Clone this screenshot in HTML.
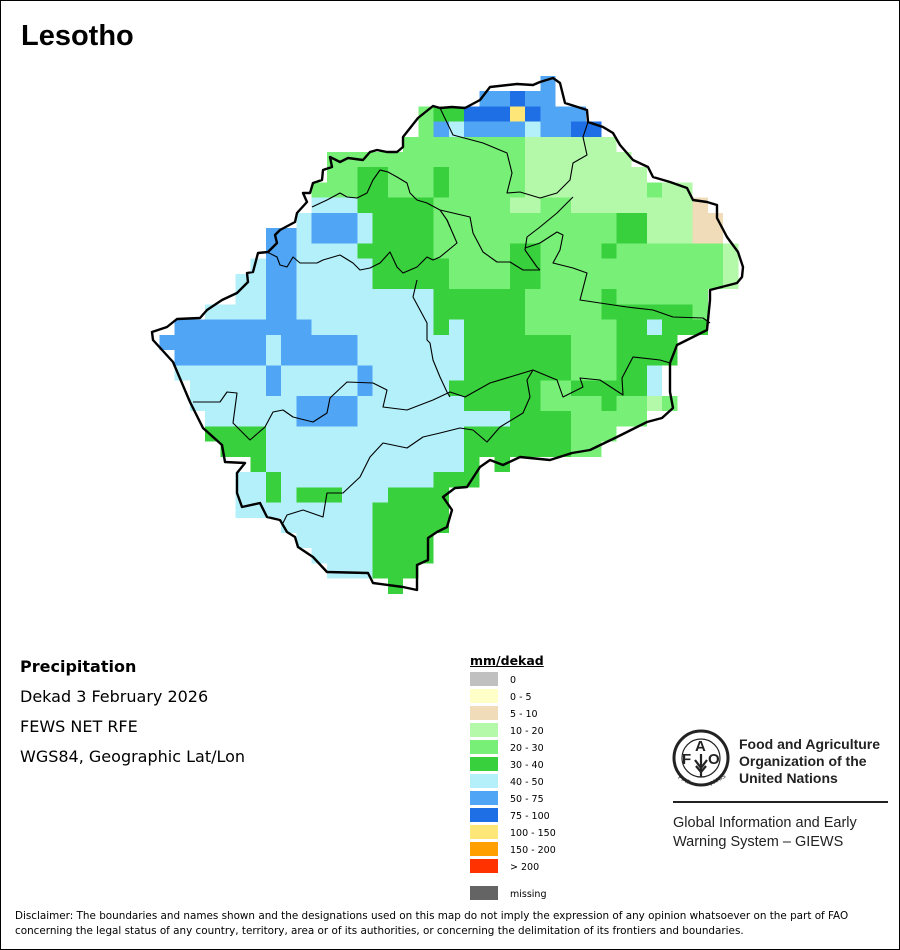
<!DOCTYPE html>
<html><head><meta charset="utf-8"><style>
html,body{margin:0;padding:0;background:#fff}
.page{position:relative;width:898px;height:948px;border:1px solid #000;overflow:hidden;font-family:"Liberation Sans",Arial,sans-serif}
.t{position:absolute;white-space:nowrap;color:#000}
.dv{font-family:"DejaVu Sans",sans-serif}
</style></head><body><div class="page">
<div class="t" style="left:20px;top:19px;font-size:29px;font-weight:bold">Lesotho</div>
<svg width="900" height="640" style="position:absolute;left:-1px;top:-1px">
<g transform="translate(159.3,75.8) scale(15.24)" shape-rendering="crispEdges">
<g fill="#b4f0fa">
<rect x="19" y="3" width="1" height="1"/><rect x="24" y="3" width="1" height="1"/>
<rect x="10" y="8" width="3" height="1"/><rect x="9" y="9" width="1" height="1"/><rect x="13" y="9" width="1" height="1"/>
<rect x="9" y="10" width="1" height="1"/><rect x="13" y="10" width="1" height="1"/>
<rect x="9" y="11" width="4" height="1"/><rect x="6" y="12" width="1" height="1"/><rect x="9" y="12" width="5" height="1"/>
<rect x="5" y="13" width="2" height="1"/><rect x="9" y="13" width="5" height="1"/>
<rect x="5" y="14" width="2" height="1"/><rect x="9" y="14" width="9" height="1"/>
<rect x="3" y="15" width="4" height="1"/><rect x="9" y="15" width="9" height="1"/>
<rect x="10" y="16" width="8" height="1"/><rect x="19" y="16" width="1" height="1"/><rect x="32" y="16" width="1" height="1"/>
<rect x="7" y="17" width="1" height="1"/><rect x="13" y="17" width="7" height="1"/>
<rect x="7" y="18" width="1" height="1"/><rect x="13" y="18" width="7" height="1"/>
<rect x="1" y="19" width="6" height="1"/><rect x="8" y="19" width="5" height="1"/><rect x="14" y="19" width="6" height="1"/><rect x="32" y="19" width="1" height="1"/>
<rect x="2" y="20" width="5" height="1"/><rect x="8" y="20" width="5" height="1"/><rect x="14" y="20" width="5" height="1"/><rect x="32" y="20" width="1" height="1"/>
<rect x="2" y="21" width="7" height="1"/><rect x="13" y="21" width="7" height="1"/>
<rect x="3" y="22" width="6" height="1"/><rect x="13" y="22" width="10" height="1"/>
<rect x="7" y="23" width="13" height="1"/><rect x="7" y="24" width="13" height="1"/><rect x="7" y="25" width="13" height="1"/>
<rect x="5" y="26" width="2" height="1"/><rect x="8" y="26" width="10" height="1"/>
<rect x="5" y="27" width="2" height="1"/><rect x="8" y="27" width="1" height="1"/><rect x="12" y="27" width="3" height="1"/>
<rect x="5" y="28" width="9" height="1"/><rect x="8" y="29" width="6" height="1"/><rect x="9" y="30" width="5" height="1"/>
<rect x="10" y="31" width="4" height="1"/><rect x="11" y="32" width="3" height="1"/>
</g>
<g fill="#50a5f5">
<rect x="25" y="0" width="1" height="1"/><rect x="21" y="1" width="2" height="1"/><rect x="24" y="1" width="2" height="1"/>
<rect x="25" y="2" width="3" height="1"/><rect x="18" y="3" width="1" height="1"/><rect x="20" y="3" width="4" height="1"/><rect x="25" y="3" width="2" height="1"/>
<rect x="10" y="9" width="3" height="2"/><rect x="7" y="10" width="2" height="6"/>
<rect x="1" y="16" width="9" height="1"/><rect x="0" y="17" width="7" height="1"/><rect x="8" y="17" width="5" height="2"/><rect x="1" y="18" width="6" height="1"/>
<rect x="7" y="19" width="1" height="2"/><rect x="13" y="19" width="1" height="2"/><rect x="9" y="21" width="4" height="2"/>
</g>
<g fill="#1e6ee6">
<rect x="23" y="1" width="1" height="1"/><rect x="20" y="2" width="3" height="1"/><rect x="24" y="2" width="1" height="1"/><rect x="27" y="3" width="2" height="1"/>
</g>
<rect x="23" y="2" width="1" height="1" fill="#ffe678"/>
<g fill="#f0dcb8"><rect x="35" y="8" width="1" height="1"/><rect x="35" y="9" width="2" height="2"/></g>
<g fill="#b4f8aa">
<rect x="24" y="4" width="6" height="1"/><rect x="24" y="5" width="7" height="1"/><rect x="24" y="6" width="8" height="2"/><rect x="33" y="7" width="2" height="1"/>
<rect x="23" y="8" width="2" height="1"/><rect x="27" y="8" width="8" height="1"/><rect x="32" y="9" width="3" height="2"/>
<rect x="37" y="11" width="1" height="3"/><rect x="32" y="21" width="1" height="1"/>
</g>
<g fill="#78f078">
<rect x="17" y="2" width="1" height="2"/><rect x="16" y="4" width="8" height="1"/><rect x="11" y="5" width="13" height="1"/>
<rect x="11" y="6" width="2" height="1"/><rect x="15" y="6" width="3" height="2"/><rect x="19" y="6" width="5" height="2"/><rect x="10" y="7" width="3" height="1"/><rect x="32" y="7" width="1" height="1"/>
<rect x="18" y="8" width="5" height="1"/><rect x="25" y="8" width="2" height="1"/><rect x="18" y="9" width="12" height="2"/>
<rect x="18" y="11" width="5" height="1"/><rect x="25" y="11" width="4" height="1"/><rect x="30" y="11" width="7" height="1"/>
<rect x="19" y="12" width="4" height="2"/><rect x="25" y="12" width="12" height="2"/>
<rect x="24" y="14" width="5" height="2"/><rect x="30" y="14" width="6" height="1"/><rect x="35" y="15" width="1" height="1"/>
<rect x="24" y="16" width="6" height="1"/><rect x="27" y="17" width="3" height="3"/><rect x="25" y="20" width="2" height="1"/>
<rect x="25" y="21" width="4" height="1"/><rect x="30" y="21" width="2" height="1"/><rect x="33" y="21" width="1" height="1"/>
<rect x="27" y="22" width="5" height="1"/><rect x="27" y="23" width="3" height="1"/><rect x="27" y="24" width="2" height="1"/>
</g>
<g fill="#38d03c">
<rect x="18" y="2" width="2" height="1"/><rect x="13" y="6" width="2" height="2"/><rect x="18" y="6" width="1" height="2"/>
<rect x="13" y="8" width="5" height="1"/><rect x="14" y="9" width="4" height="2"/><rect x="30" y="9" width="2" height="2"/>
<rect x="13" y="11" width="5" height="1"/><rect x="23" y="11" width="2" height="3"/><rect x="29" y="11" width="1" height="1"/>
<rect x="14" y="12" width="5" height="2"/><rect x="18" y="14" width="6" height="2"/><rect x="29" y="14" width="1" height="1"/><rect x="29" y="15" width="6" height="1"/>
<rect x="18" y="16" width="1" height="1"/><rect x="20" y="16" width="4" height="1"/><rect x="30" y="16" width="2" height="1"/><rect x="33" y="16" width="3" height="1"/>
<rect x="20" y="17" width="7" height="3"/><rect x="30" y="17" width="4" height="2"/><rect x="30" y="19" width="2" height="1"/>
<rect x="19" y="20" width="6" height="1"/><rect x="27" y="20" width="5" height="1"/><rect x="20" y="21" width="5" height="1"/><rect x="29" y="21" width="1" height="1"/>
<rect x="23" y="22" width="4" height="1"/><rect x="3" y="23" width="4" height="1"/><rect x="20" y="23" width="7" height="2"/><rect x="4" y="24" width="3" height="1"/>
<rect x="6" y="25" width="1" height="1"/><rect x="20" y="25" width="1" height="1"/><rect x="22" y="25" width="1" height="1"/>
<rect x="7" y="26" width="1" height="2"/><rect x="18" y="26" width="3" height="1"/><rect x="9" y="27" width="3" height="1"/><rect x="15" y="27" width="4" height="1"/>
<rect x="14" y="28" width="5" height="2"/><rect x="14" y="30" width="4" height="2"/><rect x="14" y="32" width="3" height="1"/><rect x="15" y="33" width="1" height="1"/>
</g>
</g>
<g fill="none" stroke="#000" stroke-width="1.1" stroke-linejoin="round">
<polyline points="312,207 327,200 340,193 347,197 357,198 367,193 373,180 380,170 388,172 397,177 407,183 410,193 417,200 427,203 440,210 447,220 450,227"/>
<polyline points="267,252 277,257 280,265 287,267 293,257 300,263 317,263 323,260 340,255 353,263 360,270 370,268 380,263 390,252 397,267 403,273 417,267 427,257 433,260 440,257 457,243 447,220"/>
<polyline points="417,280 413,297 420,310 427,323 427,340 430,343 433,360 440,377 447,392 450,397"/>
<polyline points="193,402 220,402 227,392 237,393 233,423 250,440 265,427 273,412 283,410 293,417 313,422 327,413 330,398 347,382 373,383 387,390 383,407 407,410 433,400 450,392 465,397 490,383 533,370"/>
<polyline points="283,523 287,515 303,510 323,517 327,493 343,493 360,477 370,457 383,443 407,448 423,437 440,433 460,428 473,430 487,442 500,427 523,413 530,397 527,380 533,370 557,380 563,397 583,387 580,378 600,380 623,395 622,378 633,357 660,360 670,363"/>
<polyline points="440,108 453,135 483,143 507,153 512,173 507,193 520,192 540,198 557,193 570,180 573,163 587,155 583,137 588,122"/>
<polyline points="573,197 557,213 540,227 527,237 525,250 537,267 540,270"/>
<polyline points="525,248 540,243 557,232 563,235 560,250 553,263 573,268 587,273 580,300 600,303 627,307 653,310 673,317 703,318 710,323"/>
<polyline points="440,210 453,213 470,217 473,233 483,252 497,262 510,262 523,270 540,270"/>
</g>
<polygon fill="none" stroke="#000" stroke-width="2.4" stroke-linejoin="round" points="440,108 452,107 465,108 480,100 490,87 517,84 533,85 540,82 553,78 560,83 565,103 587,110 588,122 603,127 613,133 620,145 633,160 648,167 653,177 670,182 687,188 693,200 707,202 717,205 717,218 727,237 738,252 743,267 742,277 737,283 710,290 710,300 707,330 693,337 677,345 670,363 670,392 673,408 662,418 647,422 617,437 590,450 572,453 550,460 520,457 503,465 490,460 480,467 467,487 455,488 443,497 452,510 447,527 437,532 428,538 428,560 417,565 417,590 403,587 373,583 368,573 327,572 313,557 298,547 295,537 287,532 280,520 267,517 260,503 242,507 237,493 237,473 245,463 225,462 222,445 203,428 190,402 173,362 153,340 152,332 167,327 177,319 200,318 207,310 222,300 237,293 248,282 247,273 253,272 258,253 268,252 277,243 275,235 280,230 295,222 297,213 307,202 303,193 310,193 313,183 322,180 323,170 332,167 330,157 340,162 348,158 363,160 370,152 377,150 387,152 397,152 403,147 403,137 418,118 433,106"/>
</svg>
<div class="t dv" style="left:19px;top:656px;font-size:16px;font-weight:bold">Precipitation</div>
<div class="t dv" style="left:19px;top:686px;font-size:16px">Dekad 3 February 2026</div>
<div class="t dv" style="left:19px;top:716px;font-size:16px">FEWS NET RFE</div>
<div class="t dv" style="left:19px;top:746px;font-size:16px">WGS84, Geographic Lat/Lon</div>
<div class="t dv" style="left:469px;top:652px;font-size:12.5px;font-weight:bold;text-decoration:underline">mm/dekad</div>
<svg width="120" height="240" style="position:absolute;left:469px;top:669px" font-family="DejaVu Sans, sans-serif" font-size="9.5">
<rect x="0" y="2" width="28" height="14" fill="#c0c0c0"/><text x="40" y="13">0</text>
<rect x="0" y="19" width="28" height="14" fill="#ffffc8"/><text x="40" y="30">0 - 5</text>
<rect x="0" y="36" width="28" height="14" fill="#f0dcb8"/><text x="40" y="47">5 - 10</text>
<rect x="0" y="53" width="28" height="14" fill="#b4f8aa"/><text x="40" y="64">10 - 20</text>
<rect x="0" y="70" width="28" height="14" fill="#78f078"/><text x="40" y="81">20 - 30</text>
<rect x="0" y="87" width="28" height="14" fill="#38d03c"/><text x="40" y="98">30 - 40</text>
<rect x="0" y="104" width="28" height="14" fill="#b4f0fa"/><text x="40" y="115">40 - 50</text>
<rect x="0" y="121" width="28" height="14" fill="#50a5f5"/><text x="40" y="132">50 - 75</text>
<rect x="0" y="138" width="28" height="14" fill="#1e6ee6"/><text x="40" y="149">75 - 100</text>
<rect x="0" y="155" width="28" height="14" fill="#ffe678"/><text x="40" y="166">100 - 150</text>
<rect x="0" y="172" width="28" height="14" fill="#ffa000"/><text x="40" y="183">150 - 200</text>
<rect x="0" y="189" width="28" height="14" fill="#ff3200"/><text x="40" y="200">&gt; 200</text>
<rect x="0" y="216" width="28" height="14" fill="#646464"/><text x="40" y="227">missing</text>
</svg>
<svg width="70" height="70" style="position:absolute;left:664px;top:721px" font-family="Liberation Sans, Arial, sans-serif">
<circle cx="36" cy="36" r="27" fill="none" stroke="#222" stroke-width="3"/>
<circle cx="36" cy="36" r="19" fill="none" stroke="#222" stroke-width="1.2"/>
<text x="17" y="42" font-size="15" font-weight="bold" fill="#222">F</text>
<text x="30" y="29" font-size="15" font-weight="bold" fill="#222">A</text>
<text x="43" y="42" font-size="15" font-weight="bold" fill="#222">O</text>
<path d="M36 32 L36 55 M30 38 L36 46 L42 38 M31 44 L36 50 L41 44" stroke="#222" stroke-width="2.2" fill="none"/>
<text x="13" y="59" font-size="6" fill="#222" transform="rotate(30 18 57)">FIAT</text><text x="43" y="61" font-size="6" fill="#222" transform="rotate(-30 50 57)">PANIS</text>
</svg>
<div class="t" style="left:738px;top:735px;font-size:14px;font-weight:bold;line-height:17px;color:#222">Food and Agriculture<br>Organization of the<br>United Nations</div>
<div style="position:absolute;left:672px;top:800px;width:215px;height:2px;background:#222"></div>
<div class="t" style="left:672px;top:813px;font-size:14.5px;line-height:19px;color:#222">Global Information and Early<br>Warning System – GIEWS</div>
<div class="t dv" style="left:14px;top:908px;font-size:10.4px;line-height:15px">Disclaimer: The boundaries and names shown and the designations used on this map do not imply the expression of any opinion whatsoever on the part of FAO<br>concerning the legal status of any country, territory, area or of its authorities, or concerning the delimitation of its frontiers and boundaries.</div>
</div></body></html>
